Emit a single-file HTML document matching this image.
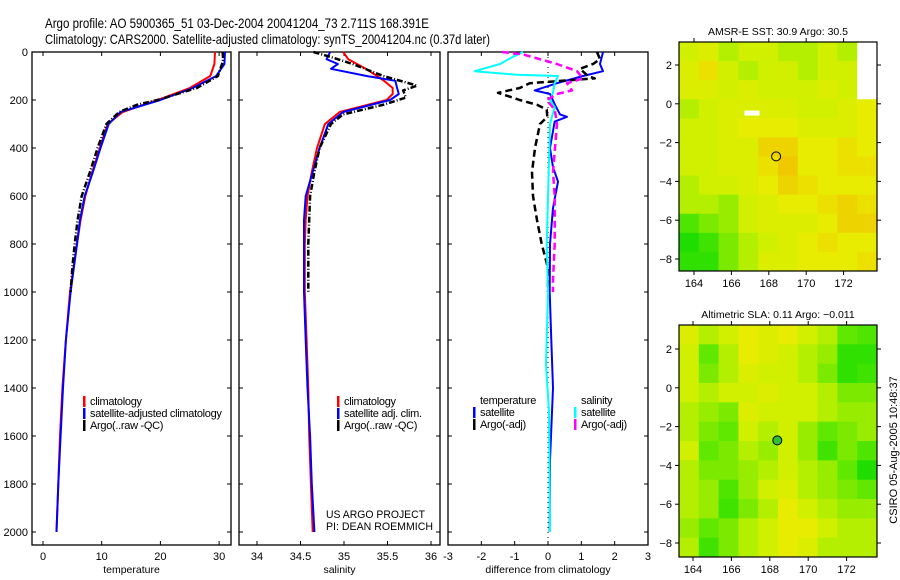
<!DOCTYPE html>
<html><head><meta charset="utf-8">
<style>
html,body{margin:0;padding:0;background:#fff;}
svg{display:block;font-family:"Liberation Sans",sans-serif;}
text{font-family:"Liberation Sans",sans-serif;}
</style></head>
<body>
<svg id="chart" width="900" height="580" viewBox="0 0 900 580" xmlns="http://www.w3.org/2000/svg">
<rect width="900" height="580" fill="#fff"/>
<text x="45" y="28" font-size="14" textLength="384" lengthAdjust="spacingAndGlyphs">Argo profile: AO 5900365_51 03-Dec-2004 20041204_73 2.711S 168.391E</text>
<text x="45" y="44" font-size="14" textLength="445" lengthAdjust="spacingAndGlyphs">Climatology: CARS2000. Satellite-adjusted climatology: synTS_20041204.nc (0.37d later)</text>
<g id="g"></g>
<text x="326" y="518" font-size="11" textLength="99" lengthAdjust="spacingAndGlyphs">US ARGO PROJECT</text>
<text x="326" y="530" font-size="11" textLength="107" lengthAdjust="spacingAndGlyphs">PI: DEAN ROEMMICH</text>
<text transform="translate(897,450) rotate(-90)" text-anchor="middle" font-size="11">CSIRO 05-Aug-2005 10:48:37</text>
</svg>
<script>
// ---------- profile data ----------
const tempDepth = [0,50,100,150,200,250,300,400,500,600,700,800,1000,1200,1400,1600,1800,2000];
const tempClim  = [29.3,29.2,28.5,25,19.5,13.6,11,9.7,8.4,7.2,6.4,5.8,4.6,3.9,3.3,2.9,2.6,2.3];
const tempSat   = [31,30.9,29.5,25.5,20,13.2,11.2,9.8,8.5,7.1,6.3,5.8,4.7,3.9,3.4,3.0,2.6,2.3];
const argoDepth = [0,30,50,100,150,200,220,250,300,400,500,600,700,800,900,1000];
const tempArgo  = [30.6,30.7,30.5,29.8,26.2,19.5,16,13,10.8,9.3,8,6.6,5.9,5.4,5.0,4.7];
const salDepth  = [0,30,50,70,100,120,150,175,200,250,300,400,500,600,700,800,1000,1200,1400,1600,1800,2000];
const salClim   = [34.99,35.05,35.15,35.25,35.38,35.46,35.56,35.56,35.49,34.95,34.78,34.69,34.63,34.58,34.56,34.55,34.55,34.57,34.59,34.60,34.62,34.64];
const salSat    = [34.84,34.8,34.93,34.85,35.26,35.59,35.61,35.63,35.53,34.99,34.82,34.72,34.64,34.56,34.54,34.54,34.54,34.56,34.58,34.61,34.63,34.66];
const salArgoDepth = [0,20,50,100,140,160,190,220,260,300,400,500,600,800,1000];
const salArgo   = [34.65,34.84,35.1,35.45,35.84,35.68,35.71,35.45,34.99,34.85,34.72,34.66,34.61,34.59,34.59];
const dTDepth   = [0,50,80,100,130,160,175,220,260,270,290,400,480,540,650,800,1000,1200,1400,1500,1700,2000];
const dTSat     = [1.65,1.56,1.65,1.05,0.27,-0.4,0.06,0.21,0.36,0.57,0.2,0.06,0.15,0.3,0.15,0.06,0.05,0.1,0.15,0.12,0.06,0.05];
const dTArgoDepth = [0,30,50,70,100,110,130,150,170,200,220,240,270,300,400,500,600,700,800,900,1000];
const dTArgo    = [1.47,1.56,1.35,0.96,1.2,1.4,-0.55,-0.85,-1.5,-0.85,-0.33,-0.04,-0.02,-0.24,-0.39,-0.48,-0.45,-0.33,-0.19,0,0];
const dSDepth   = [0,20,50,80,95,100,130,170,200,230,300,500,800,1000,1200,1300,1500,2000];
const dSSat     = [-0.75,-1.05,-1.44,-2.2,-0.93,0.3,0.2,0.15,0.06,0.2,0.06,0.02,-0.04,0,-0.04,-0.06,0.03,0.06];
const dSArgoDepth = [0,10,30,50,80,110,130,160,175,200,240,300,500,600,800,950,1000];
const dSArgo    = [-1.38,-0.75,-0.24,0.27,0.87,1.05,0.57,0.72,0.27,-0.04,0.2,0.27,0.15,0.2,0.2,0.15,0.15];
const depthTicks = [0,200,400,600,800,1000,1200,1400,1600,1800,2000];
const tempTicks = [0,10,20,30];
const salTicks = [34,34.5,35,35.5,36];
const salTickLabels = ["34","34.5","35","35.5","36"];
const diffTicks = [-3,-2,-1,0,1,2,3];

// ---------- map data (rows lat 3 -> -8, cols lon 163.5 -> 172.5) ----------
const sstGrid = [
[.5,.55,.45,.5,.5,.45,.45,.5,.45,null],
[.55,.65,.5,.45,.5,.5,.45,.5,.5,null],
[.55,.55,.5,.55,.5,.5,.5,.55,.5,null],
[.45,.5,.55,.55,.55,.55,.5,.5,.55,.6],
[.5,.5,.55,.6,.6,.6,.55,.55,.55,.6],
[.5,.5,.55,.55,.7,.7,.6,.6,.65,.6],
[.5,.5,.55,.55,.65,.75,.6,.6,.65,.65],
[.45,.5,.5,.55,.6,.7,.65,.6,.6,.6],
[.45,.45,.4,.5,.55,.6,.6,.65,.7,.65],
[.25,.35,.4,.5,.55,.55,.55,.6,.7,.7],
[.1,.2,.35,.45,.5,.55,.6,.65,.6,.6],
[.15,.15,.35,.45,.55,.55,.6,.6,.6,.65]];
const slaGrid = [
[.55,.45,.5,.6,.55,.6,.5,.45,.3,.25],
[.5,.3,.45,.6,.55,.5,.45,.4,.15,.15],
[.5,.35,.45,.55,.5,.5,.45,.35,.15,.2],
[.5,.45,.5,.5,.55,.5,.5,.45,.35,.35],
[.45,.4,.35,.55,.5,.5,.5,.45,.4,.4],
[.45,.35,.3,.5,.45,.5,.4,.3,.35,.4],
[.5,.3,.35,.45,.4,.5,.4,.2,.35,.25],
[.45,.35,.35,.4,.45,.5,.45,.4,.3,.1],
[.45,.4,.25,.4,.5,.55,.45,.4,.35,.3],
[.45,.4,.2,.35,.45,.6,.5,.45,.4,.4],
[.4,.3,.35,.45,.5,.6,.6,.5,.45,.45],
[.45,.2,.35,.45,.5,.6,.55,.45,.45,.45]];
const lonTicks = [164,166,168,170,172];
const latTicks = [2,0,-2,-4,-6,-8];
const floatLon = 168.391, floatLat = -2.711;

const NS="http://www.w3.org/2000/svg";
const G=document.getElementById('g');
function mk(tag,attrs,parent){const e=document.createElementNS(NS,tag);for(const k in attrs)e.setAttribute(k,attrs[k]);(parent||G).appendChild(e);return e;}
function txt(s,attrs){const e=mk('text',attrs);e.textContent=s;return e;}

const yTop=52,yBot=545;
const yD=d=>52+0.24*d;
const panels=[
 {name:'temperature',x0:32,x1:231,f:v=>43+5.87*v,ticks:tempTicks,labels:tempTicks.map(String)},
 {name:'salinity',x0:239,x1:440,f:v=>257+87*(v-34),ticks:salTicks,labels:salTickLabels},
 {name:'difference from climatology',x0:448,x1:648,f:v=>548+33.33*v,ticks:diffTicks,labels:diffTicks.map(String)}
];
panels.forEach((p,i)=>{
  const fr=mk('rect',{x:p.x0,y:yTop,width:p.x1-p.x0,height:yBot-yTop,fill:'none',stroke:'#000','stroke-width':1.3});
  
  
  p.ticks.forEach((t,j)=>{
    const x=p.f(t);
    mk('line',{x1:x,x2:x,y1:yBot,y2:yBot-4,stroke:'#000'});
    mk('line',{x1:x,x2:x,y1:yTop,y2:yTop+4,stroke:'#000'});
    const tl=txt(p.labels[j],{x:x,y:560,'font-size':11,'text-anchor':'middle'});
    
    
  });
  depthTicks.forEach(d=>{
    mk('line',{x1:p.x0,x2:p.x0+4,y1:yD(d),y2:yD(d),stroke:'#000'});
    mk('line',{x1:p.x1,x2:p.x1-4,y1:yD(d),y2:yD(d),stroke:'#000'});
  });
  const at=txt(p.name,{x:(p.x0+p.x1)/2,y:573,'font-size':10.5,'text-anchor':'middle'});
  
  
});
depthTicks.forEach(d=>{
  const t=txt(String(d),{x:28,y:yD(d)+4,'font-size':11,'text-anchor':'end'});
  
  
});
mk('line',{x1:panels[2].f(0),x2:panels[2].f(0),y1:yTop,y2:yBot,stroke:'#000','stroke-dasharray':'1,4'});

function series(p,depths,vals,color,w,dash,name){
  const pts=depths.map((d,i)=>p.f(vals[i]).toFixed(1)+','+yD(d).toFixed(1)).join(' ');
  const a={points:pts,fill:'none',stroke:color,'stroke-width':w,'stroke-linejoin':'round'};
  if(dash)a['stroke-dasharray']=dash;
  const e=mk('polyline',a);
  
  
}
const [P1,P2,P3]=panels;
series(P1,tempDepth,tempClim,'#f00',2,null,'temp-climatology-line');
series(P1,tempDepth,tempSat,'#00f',2,null,'temp-satellite-line');
series(P1,argoDepth,tempArgo,'#000',2.5,'6,2,1,2','temp-argo-line');
series(P2,salDepth,salClim,'#f00',2,null,'sal-climatology-line');
series(P2,salDepth,salSat,'#00f',2,null,'sal-satellite-line');
series(P2,salArgoDepth,salArgo,'#000',2.5,'6,2,1,2','sal-argo-line');
series(P3,dTDepth,dTSat,'#00f',2,null,'diff-temp-satellite-line');
series(P3,dTArgoDepth,dTArgo,'#000',2.5,'7,4','diff-temp-argo-line');
series(P3,dSDepth,dSSat,'#0ff',2,null,'diff-sal-satellite-line');
series(P3,dSArgoDepth,dSArgo,'#f0f',2.5,'7,4','diff-sal-argo-line');

function legend(x,y,items,name){
  items.forEach((it,i)=>{
    const yy=y+i*12;
    if(it[1])mk('rect',{x:x,y:yy-9,width:2.5,height:11,fill:it[1]});
    const t=txt(it[0],{x:x+7,y:yy,'font-size':11,'letter-spacing':'-0.3'});
    
    
  });
}
legend(83,405,[['climatology','#f00'],['satellite-adjusted climatology','#00f'],['Argo(..raw -QC)','#000']],'temp-legend');
legend(337,405,[['climatology','#f00'],['satellite adj. clim.','#00f'],['Argo(..raw -QC)','#000']],'sal-legend');
legend(473,404,[['temperature',null],['satellite','#00f'],['Argo(-adj)','#000']],'diff-temp-legend');
legend(574,404,[['salinity',null],['satellite','#0ff'],['Argo(-adj)','#f0f']],'diff-sal-legend');

// ---------- maps ----------
function cmap(v){
  const stops=[[0,[0,216,0]],[0.3,[96,232,0]],[0.5,[208,240,0]],[0.6,[232,236,0]],[0.75,[240,200,0]]];
  if(v<=0)return 'rgb(0,216,0)';
  for(let i=1;i<stops.length;i++){if(v<=stops[i][0]){const a=stops[i-1],b=stops[i],t=(v-a[0])/(b[0]-a[0]);
    const c=a[1].map((q,k)=>Math.round(q+(b[1][k]-q)*t));return `rgb(${c})`;}}
  return 'rgb(240,200,0)';
}
function drawMap(m,grid,title,name,filled){
  const fx=lon=>m.x164+(lon-164)*m.sx, fy=lat=>m.y2+(2-lat)*m.sy;
  const lon0=(m.x0-m.x164)/m.sx+164, lon1=(m.x1-m.x164)/m.sx+164;
  const lat0=2-(m.y0-m.y2)/m.sy, lat1=2-(m.y1-m.y2)/m.sy;
  const nr=grid.length,nc=grid[0].length,dl=(lon1-lon0)/nc,dp=(lat0-lat1)/nr;
  grid.forEach((row,r)=>row.forEach((v,c)=>{
    const xa=fx(lon0+c*dl),xb=fx(lon0+(c+1)*dl),ya=fy(lat0-r*dp),yb=fy(lat0-(r+1)*dp);
    const e=mk('rect',{x:xa,y:ya,width:xb-xa+0.5,height:yb-ya+0.5,fill:v==null?'#fff':cmap(v)});
    
    
  }));
  const fr=mk('rect',{x:m.x0,y:m.y0,width:m.x1-m.x0,height:m.y1-m.y0,fill:'none',stroke:'#000','stroke-width':1.2});
  
  
  lonTicks.forEach(l=>{const x=fx(l);
    mk('line',{x1:x,x2:x,y1:m.y1,y2:m.y1+4,stroke:'#000'});
    mk('line',{x1:x,x2:x,y1:m.y0,y2:m.y0-4,stroke:'#000'});
    const t=txt(String(l),{x:x,y:m.y1+16,'font-size':11,'text-anchor':'middle'});
    
    });
  latTicks.forEach(l=>{const y=fy(l);
    mk('line',{x1:m.x0,x2:m.x0-4,y1:y,y2:y,stroke:'#000'});
    mk('line',{x1:m.x1,x2:m.x1+4,y1:y,y2:y,stroke:'#000'});
    const t=txt(String(l).replace('-','\u2212'),{x:m.x0-7,y:y+4,'font-size':11,'text-anchor':'end'});
    
    });
  const tt=txt(title,{x:(m.x0+m.x1)/2,y:m.y0-7,'font-size':10.5,'text-anchor':'middle'});
  
  
  const c=mk('circle',{cx:fx(floatLon),cy:fy(floatLat),r:4.5,fill:filled?'#30c030':'none',stroke:'#000','stroke-width':1});
  
  
  return {fx,fy};
}
const m1=drawMap({x0:679,x1:877,y0:42,y1:271,x164:694,sx:18.7,y2:65,sy:19.4},sstGrid,'AMSR-E SST: 30.9 Argo: 30.5','sst-map',false);
const wr=mk('rect',{x:m1.fx(166.7),y:m1.fy(-0.35),width:15,height:5,fill:'#fff'});


drawMap({x0:679,x1:877,y0:325,y1:557,x164:693,sx:19.2,y2:349,sy:19.4},slaGrid,'Altimetric SLA: 0.11 Argo: \u22120.011','sla-map',true);
</script>
</body></html>
